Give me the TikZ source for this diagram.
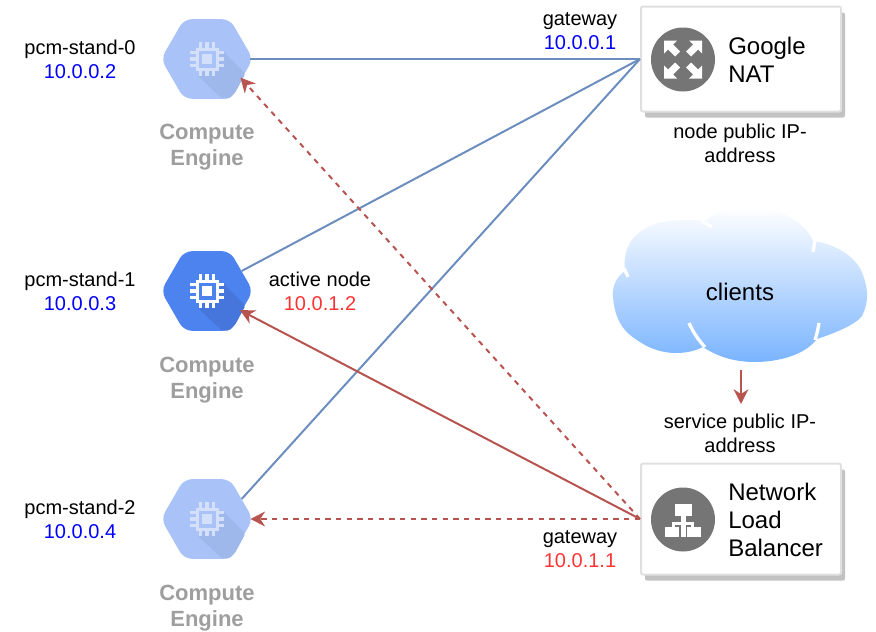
\documentclass[tikz,border=0pt]{standalone}
\usepackage{fontspec}
\setmainfont{Liberation Sans}
\usetikzlibrary{arrows.meta,shapes.geometric,shadows}
\definecolor{linkblue}{HTML}{6C8EBF}
\definecolor{linkred}{HTML}{B85450}
\definecolor{ipblue}{HTML}{0000FF}
\definecolor{ipred}{HTML}{FF3333}
\definecolor{captiongray}{HTML}{9E9E9E}
\definecolor{icongray}{HTML}{757575}
\definecolor{hexpale}{HTML}{A9C3F8}
\definecolor{hexpaledark}{HTML}{9FB8EC}
\definecolor{chippale}{HTML}{D4E0FA}
\definecolor{hexactive}{HTML}{4D83EE}
\definecolor{hexactivedark}{HTML}{4676DC}
\definecolor{cloudblue}{HTML}{7AB4FF}
\tikzset{
	hexnode/.style={regular polygon, regular polygon sides=6, minimum size=69pt, inner sep=0pt, rounded corners=6pt},
	txt/.style={font=\fontsize{15}{18}\selectfont, align=center, inner sep=0pt},
	boxtxt/.style={font=\fontsize{18}{21}\selectfont, align=left, anchor=west, inner sep=0pt},
	caption/.style={font=\fontsize{16.5}{19.5}\selectfont\bfseries, align=center, text=captiongray, inner sep=0pt},
	whitebox/.style={draw=black!12, fill=white, line width=1.5pt, rounded corners=1.5pt, minimum width=150pt,
		drop shadow={shadow xshift=3pt, shadow yshift=-4.5pt, fill=black!24, opacity=1}},
	iconback/.style={circle, fill=icongray, minimum size=48pt, inner sep=0pt},
	solidblue/.style={linkblue, line width=1.5pt},
	solidred/.style={linkred, line width=1.5pt, -{Stealth[length=11pt, width=11pt, inset=3.5pt]}},
	dashred/.style={solidred, dash pattern=on 4pt off 4pt}
}
% hexagon with the chip on it: name, x, y, hexagon, its shade, chip
\newcommand{\computenode}[6]{
	\node[hexnode, fill=#4] (#1) at (#2,#3) {};
	\begin{scope}[shift={(#2,#3)}]
		\fill[#5, rounded corners=1.5pt] (16,-8) -- (38.5,14.5) -- (28,34) -- (22,39.7) -- (15,39.7) -- (-9,17) -- cycle;
		\foreach \p in {-6.5,0,6.5} {
			\fill[#6] (\p-1.6,-17) rectangle (\p+1.6,17);
			\fill[#6] (-17,\p-1.6) rectangle (17,\p+1.6);
		}
		\fill[#6] (-11.5,-11.5) rectangle (11.5,11.5);
		\fill[#4] (-8.5,-8.5) rectangle (8.5,8.5);
		\fill[#6] (-5,-5) rectangle (5,5);
	\end{scope}
}
\begin{document}
\begin{tikzpicture}[x=0.75pt, y=-0.75pt]
	\useasboundingbox (0,0) rectangle (876,632);

	% cloud
	\shade[top color=white, bottom color=cloudblue]
		(625,271) .. controls (616,277) and (612,287) .. (613,297)
		.. controls (615,322) and (625,333) .. (640,342)
		.. controls (652,350) and (665,353) .. (676,353)
		.. controls (686,353) and (695,351) .. (703,347)
		.. controls (718,357) and (735,362) .. (755,362)
		.. controls (778,362) and (805,355) .. (817,339)
		.. controls (835,333) and (855,325) .. (862,316)
		.. controls (870,300) and (868,285) .. (860,268)
		.. controls (850,252) and (830,243) .. (813,241)
		.. controls (805,222) and (780,207) .. (748,207)
		.. controls (728,207) and (713,213) .. (705,221)
		.. controls (680,218) and (655,220) .. (640,232)
		.. controls (628,240) and (623,255) .. (625,271) -- cycle;
	\draw[white, line width=2.5pt] (628,277) -- (624,268);
	\draw[white, line width=2.5pt] (712,227) -- (702,221);
	\draw[white, line width=2.5pt] (813,252) -- (815,240);
	\draw[white, line width=2.5pt] (689,323) .. controls (693,332) and (699,341) .. (705,347);
	\draw[white, line width=2.5pt] (819,323) .. controls (818,329) and (817,334) .. (815,340);

	% compute nodes
	\computenode{hex0}{207}{59}{hexpale}{hexpaledark}{chippale}
	\computenode{hex1}{207}{291}{hexactive}{hexactivedark}{white}
	\computenode{hex2}{207}{519}{hexpale}{hexpaledark}{chippale}
	\node[caption] (cap0) at (207,147) {Compute\\Engine};
	\node[caption] (cap1) at (207,380) {Compute\\Engine};
	\node[caption] (cap2) at (207,608) {Compute\\Engine};
	\node[txt] (stand0) at (80,59) {pcm-stand-0\\\textcolor{ipblue}{10.0.0.2}};
	\node[txt] (stand1) at (80,291) {pcm-stand-1\\\textcolor{ipblue}{10.0.0.3}};
	\node[txt] (stand2) at (80,519) {pcm-stand-2\\\textcolor{ipblue}{10.0.0.4}};
	\node[txt] (active) at (320,291) {active node\\\textcolor{ipred}{10.0.1.2}};

	% boxes
	\node[whitebox, minimum height=78.75pt] (nat) at (741,59) {};
	\node[whitebox, minimum height=83.25pt] (lb) at (741,519) {};
	\node[iconback] (naticon) at (683,59.5) {};
	\node[iconback] (lbicon) at (683,519.5) {};
	\node[boxtxt] (natlabel) at (728,60) {Google\\NAT};
	\node[boxtxt] (lblabel) at (728,519.5) {Network\\Load\\Balancer};
	\begin{scope}[shift={(683,59.5)}]
		\foreach \a in {0,90,180,270} {
			\fill[white, rotate=\a] (-19,-19) -- (-6,-19) -- (-10,-15) -- (-3,-8) -- (-8,-3) -- (-15,-10) -- (-19,-6) -- cycle;
		}
	\end{scope}
	\begin{scope}[shift={(683,519.5)}]
		\fill[white] (-8,-16) rectangle (9,-4);
		\fill[white] (-2.5,-4) rectangle (2.5,17);
		\fill[white] (-11,2) rectangle (11,5);
		\fill[white] (-18,7) rectangle (-4,17);
		\fill[white] (4,7) rectangle (18,17);
		\fill[white] (-11,2) rectangle (-8,7);
		\fill[white] (8,2) rectangle (11,7);
	\end{scope}

	\node[txt] (gwnat) at (580,31) {gateway\\\textcolor{ipblue}{10.0.0.1}};
	\node[txt] (gwlb) at (580,549) {gateway\\\textcolor{ipred}{10.0.1.1}};
	\node[txt] (natip) at (740,143) {node public IP-\\address};
	\node[txt] (lbip) at (740,433) {service public IP-\\address};
	\node[txt, font=\fontsize{18}{21}\selectfont] (clients) at (740,292) {clients};
	\coordinate (cloudfoot) at (741,370);
	\coordinate (lbiptop) at (741,404);

	% connectors
	\draw[solidblue, shorten <=-2.25pt] (hex0.east) -- (nat.west);
	\draw[solidblue] (hex1.30) -- (nat.west);
	\draw[solidblue] (hex2.30) -- (nat.west);
	\draw[solidred, shorten >=-1.5pt] (lb.west) -- (hex1.-30);
	\draw[dashred, shorten >=-1.5pt] (lb.west) -- (hex0.-30);
	\draw[dashred, shorten >=-2.25pt] (lb.west) -- (hex2.east);
	\draw[solidred] (cloudfoot) -- (lbiptop);
\end{tikzpicture}
\end{document}
